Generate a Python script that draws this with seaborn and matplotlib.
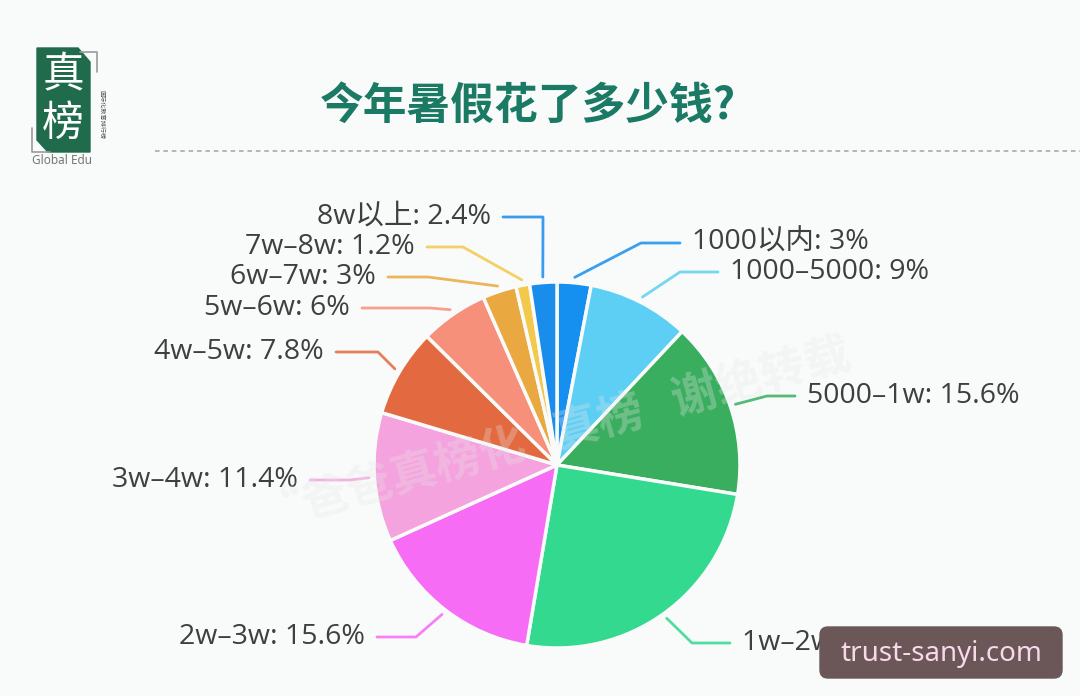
import numpy as np
import seaborn as sns
import matplotlib.pyplot as plt
from matplotlib.patches import FancyBboxPatch, Polygon

sns.set_theme(style="white")
plt.rcParams["font.family"] = ["Noto Sans CJK SC", "DejaVu Sans"]

# data
categories = ["1000以内", "1000–5000", "5000–1w", "1w–2w", "2w–3w", "3w–4w",
              "4w–5w", "5w–6w", "6w–7w", "7w–8w", "8w以上"]
shares = [3, 9, 15.6, 25.1, 15.6, 11.4, 7.8, 6, 3, 1.2, 2.4]
colors = ["#1590f0", "#5dcff5", "#3aae5f", "#32d98f", "#f76cf4", "#f5a3de",
          "#e36a40", "#f6907b", "#eaa940", "#f3c94c", "#1a8cec"]

# label layout (pixels): label row, elbow x, end of leader line
label_y = [243, 272, 396, 643, 637, 480, 352, 308, 277, 247, 217]
elbow_x = [641, 680, 767, 692, 416, 350, 378, 430, 428, 463, 543]
line_end_x = [680, 718, 795, 730, 377, 310, 336, 362, 388, 427, 503]

W, H = 1080, 696
CX, CY, R = 557, 465, 183
BG = "#f9fafa"
LABEL_FONT = ["Open Sans", "Noto Sans CJK SC"]

fig = plt.figure(figsize=(W / 100, H / 100), dpi=100, facecolor=BG)

# overlay axis in pixel units
bg = fig.add_axes([0, 0, 1, 1], zorder=0)
bg.set_xlim(0, W)
bg.set_ylim(H, 0)
bg.axis("off")
bg.set_facecolor(BG)

# title + dotted rule
bg.text(528, 106, "今年暑假花了多少钱?", ha="center", va="center",
        fontsize=31.5, fontweight="bold", color="#1a7a64")
bg.plot([155, W], [151, 151], color="#9fa5a5", lw=1.1, ls=(0, (3, 2.5)))

# logo
bg.add_patch(Polygon([[37, 48], [78, 48], [90, 62], [90, 152], [48, 152], [37, 140]],
                     closed=True, color="#1f6b4b"))
bg.plot([80, 97, 97], [52, 52, 72], color="#9a9a9a", lw=1.2)
bg.plot([32, 32, 50], [128, 152, 152], color="#9a9a9a", lw=1.2)
bg.text(63, 76, "真", ha="center", va="center", fontsize=30, color="white")
bg.text(63, 124, "榜", ha="center", va="center", fontsize=30, color="white")
bg.text(101, 114, "国际化教育排行榜", ha="center", va="center", fontsize=4.4,
        rotation=-90, color="#555555")
bg.text(62, 161, "Global Edu", ha="center", va="center", fontsize=8.5,
        color="#777777", family=["Noto Sans", "DejaVu Sans"])

# pie
ax = fig.add_axes([(CX - R) / W, (H - CY - R) / H, 2 * R / W, 2 * R / H], zorder=1)
ax.set_facecolor("none")
wedges, _ = ax.pie(shares, colors=colors, startangle=90, counterclock=False,
                   radius=1, wedgeprops=dict(edgecolor=BG, linewidth=2.5))
ax.set_xlim(-1, 1)
ax.set_ylim(-1, 1)
ax.axis("off")


def to_data(px, py):
    return (px - CX) / R, (CY - py) / R


for w, cat, val, col, ly, ex, lx in zip(wedges, categories, shares, colors,
                                        label_y, elbow_x, line_end_x):
    ang = np.deg2rad((w.theta1 + w.theta2) / 2)
    sx, sy = 1.03 * np.cos(ang), 1.03 * np.sin(ang)
    exd, eyd = to_data(ex, ly)
    lxd, _ = to_data(lx, ly)
    ax.plot([sx, exd, lxd], [sy, eyd, eyd], color=col, lw=2, alpha=0.85,
            clip_on=False, solid_capstyle="round")
    right = lx > ex
    tx, _ = to_data(lx + (12 if right else -12), ly)
    ax.text(tx, eyd, f"{cat}: {val:g}%", ha="left" if right else "right",
            va="center", fontsize=20.5, color="#3f3f3f", clip_on=False,
            family=LABEL_FONT)

# faint watermark
wm = fig.add_axes([0, 0, 1, 1], zorder=2)
wm.set_xlim(0, W)
wm.set_ylim(H, 0)
wm.axis("off")
wm.text(555, 435, "“爸爸真榜化   真榜   谢绝转载", ha="center", va="center",
        fontsize=33, fontweight="bold", rotation=15.5, color="#e6e6e6", alpha=0.3)

# site stamp
wm.add_patch(FancyBboxPatch((820, 627), 242, 51,
                            boxstyle="round,pad=0,rounding_size=8",
                            color="#6c5758", zorder=3))
wm.text(941, 654, "trust-sanyi.com", ha="center", va="center", fontsize=20,
        color="#f7d9ea", family=["Noto Sans", "DejaVu Sans"], zorder=4)

fig.savefig("out.png", dpi=100, facecolor=BG)
